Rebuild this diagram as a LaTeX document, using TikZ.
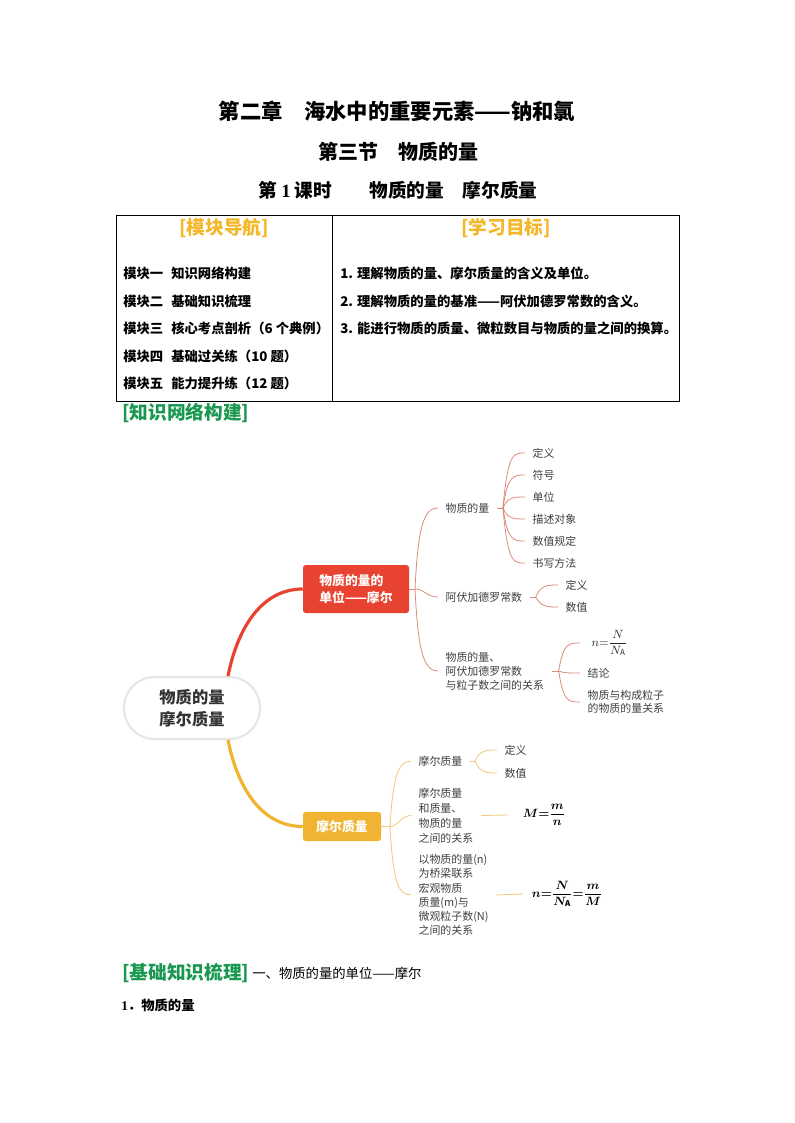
\documentclass[tikz,border=0pt]{standalone}
\usepackage{amsmath}
\usepackage{bm}
\usepackage{fontspec}
\setmainfont{Noto Sans CJK SC}
\newfontfamily\serifL{Liberation Serif}
\usetikzlibrary{calc}
\definecolor{redn}{HTML}{E84330}
\definecolor{redl}{HTML}{DE8A7A}
\definecolor{yeln}{HTML}{F0B432}
\definecolor{yell}{HTML}{F2C878}
\definecolor{gold}{HTML}{F5B72A}
\definecolor{grn}{HTML}{1A9850}
\definecolor{txt}{HTML}{404040}
\begin{document}
\begin{tikzpicture}[x=0.75pt,y=-0.75pt,
  every node/.style={inner sep=0pt},
  leaf/.style={anchor=west, inner xsep=5.5pt, inner ysep=1pt, align=left, text=txt, font=\fontsize{8.2}{10.5}\selectfont},
  rline/.style={draw=redl, line width=0.6pt},
  yline/.style={draw=yell, line width=0.6pt},
  tabitem/.style={anchor=west, font=\fontsize{10}{12}\selectfont\bfseries},
  hdr/.style={font=\fontsize{14}{16}\selectfont\bfseries},
  ttl/.style={font=\bfseries},
]
\useasboundingbox (0,0) rectangle (794,1123);
\fill[white] (0,0) rectangle (794,1123);

% titles
\node[ttl, font=\fontsize{16}{18}\selectfont\bfseries] (t1) at (397,111) {第二章　海水中的重要元素——钠和氯};
\node[ttl, font=\fontsize{15}{17}\selectfont\bfseries] (t2) at (398,152) {第三节　物质的量};
\node[ttl, font=\fontsize{14}{16}\selectfont\bfseries] (t3) at (398,190) {第 {\serifL 1} 课时　　物质的量　摩尔质量};

% table
\node[draw, line width=0.6pt, anchor=north west, minimum width=162pt, minimum height=139.5pt] (cellL) at (116,215) {};
\node[draw, line width=0.6pt, anchor=north west, minimum width=260.25pt, minimum height=139.5pt] (cellR) at (332,215) {};
\node[hdr, text=gold] (hL) at (224,228) {[模块导航]};
\node[hdr, text=gold] (hR) at (506,228) {[学习目标]};
\node[tabitem] (l1) at (123,273) {模块一\hspace{0.6em}知识网络构建};
\node[tabitem] (l2) at (123,301) {模块二\hspace{0.6em}基础知识梳理};
\node[tabitem] (l3) at (123,328) {模块三\hspace{0.6em}核心考点剖析（6 个典例）};
\node[tabitem] (l4) at (123,356) {模块四\hspace{0.6em}基础过关练（10 题）};
\node[tabitem] (l5) at (123,383) {模块五\hspace{0.6em}能力提升练（12 题）};
\node[tabitem] (r1) at (340,273) {1. 理解物质的量、摩尔质量的含义及单位。};
\node[tabitem] (r2) at (340,301) {2. 理解物质的量的基准——阿伏加德罗常数的含义。};
\node[tabitem] (r3) at (340,328) {3. 能进行物质的质量、微粒数目与物质的量之间的换算。};

\node[hdr, text=grn, anchor=west] (g1) at (122,413) {[知识网络构建]};

% mind map main nodes
\node[draw=black!10, line width=1.5pt, fill=white, rounded corners=23pt, minimum width=102pt, minimum height=46.5pt, align=center, text=black!80, font=\fontsize{12.2}{16.5}\selectfont\bfseries] (root) at (192,708) {物质的量\\摩尔质量};
\node[fill=redn, rounded corners=2pt, minimum width=79.5pt, minimum height=36pt, align=left, text=white, font=\fontsize{9.6}{12.75}\selectfont\bfseries] (m1) at (356,589) {物质的量的\\单位——摩尔};
\node[fill=yeln, rounded corners=2pt, minimum width=58.5pt, minimum height=21.75pt, text=white, font=\fontsize{9.6}{12}\selectfont\bfseries] (m2) at (342,826.5) {摩尔质量};

\draw[redn, line width=2.4pt] ($(root.north)+(36,0)$) .. controls +(10,-50) and +(-40,0) .. (m1.west);
\draw[yeln, line width=2.4pt] ($(root.south)+(36,0)$) .. controls +(10,50) and +(-40,0) .. (m2.west);

% red branch
\node[leaf] (a1) at (438,508) {物质的量};
\node[leaf] (a2) at (438,597) {阿伏加德罗常数};
\node[leaf] (a3) at (438,671) {物质的量、\\阿伏加德罗常数\\与粒子数之间的关系};
\coordinate (s1) at (415,589);
\draw[rline] (m1.east) -- (s1);
\draw[rline] (s1) .. controls +(3,-60) and +(-15,0) .. (a1.west);
\draw[rline] (s1) .. controls +(10,0) and +(-12,0) .. (a2.west);
\draw[rline] (s1) .. controls +(3,60) and +(-15,0) .. (a3.west);

\node[leaf] (b1) at (525,453) {定义};
\node[leaf] (b2) at (525,475) {符号};
\node[leaf] (b3) at (525,497) {单位};
\node[leaf] (b4) at (525,519) {描述对象};
\node[leaf] (b5) at (525,541) {数值规定};
\node[leaf] (b6) at (525,563) {书写方法};
\coordinate (f1) at ($(a1.east)+(6,0)$);
\draw[rline] (a1.east) -- (f1);
\foreach \ch in {b1,b2,b3,b4,b5,b6}{
  \draw[rline] (f1) .. controls ($(f1 |- \ch.west)+(5,0)$) and ($(\ch.west)+(-12,0)$) .. (\ch.west);
}

\node[leaf] (c1) at (558,585) {定义};
\node[leaf] (c2) at (558,607) {数值};
\coordinate (f2) at ($(a2.east)+(6,0)$);
\draw[rline] (a2.east) -- (f2);
\foreach \ch in {c1,c2}{
  \draw[rline] (f2) .. controls ($(f2 |- \ch.west)+(5,0)$) and ($(\ch.west)+(-10,0)$) .. (\ch.west);
}

\node[leaf, inner xsep=8.5pt, text=black!85, font=\fontsize{9}{11}\selectfont] (d1) at (580,643) {$n{=}\dfrac{N}{N_{\mathrm{A}}}$};
\node[leaf] (d2) at (580,673) {结论};
\node[leaf, font=\fontsize{8.2}{10}\selectfont] (d3) at (580,702) {物质与构成粒子\\的物质的量关系};
\coordinate (f3) at ($(a3.east)+(7,0)$);
\draw[rline] (a3.east) -- (f3);
\foreach \ch in {d1,d2,d3}{
  \draw[rline] (f3) .. controls ($(f3 |- \ch.west)+(5,0)$) and ($(\ch.west)+(-12,0)$) .. (\ch.west);
}

% yellow branch
\node[leaf] (e1) at (411,761) {摩尔质量};
\node[leaf, font=\fontsize{8.2}{11.2}\selectfont] (e2) at (411,815.5) {摩尔质量\\和质量、\\物质的量\\之间的关系};
\node[leaf, font=\fontsize{8.2}{10.7}\selectfont] (e3) at (411,895) {以物质的量(n)\\为桥梁联系\\宏观物质\\质量(m)与\\微观粒子数(N)\\之间的关系};
\coordinate (s2) at (390,826.5);
\draw[yline] (m2.east) -- (s2);
\draw[yline] (s2) .. controls +(3,-50) and +(-13,0) .. (e1.west);
\draw[yline] (s2) .. controls +(8,0) and +(-10,0) .. (e2.west);
\draw[yline] (s2) .. controls +(3,55) and +(-13,0) .. (e3.west);

\node[leaf] (g1a) at (497,750) {定义};
\node[leaf] (g2a) at (497,773) {数值};
\coordinate (f4) at ($(e1.east)+(5,0)$);
\draw[yline] (e1.east) -- (f4);
\foreach \ch in {g1a,g2a}{
  \draw[yline] (f4) .. controls ($(f4 |- \ch.west)+(5,0)$) and ($(\ch.west)+(-10,0)$) .. (\ch.west);
}

\node[leaf, inner xsep=11pt, text=black, font=\fontsize{9}{11}\selectfont] (h1) at (508,815) {$\bm{M}{\bm{=}}\dfrac{\bm{m}}{\bm{n}}$};
\draw[yline] (e2.east) -- (h1.west);
\node[leaf, inner xsep=6.5pt, text=black, font=\fontsize{9}{11}\selectfont] (h2) at (523,894) {$\bm{n}{\bm{=}}\dfrac{\bm{N}}{\bm{N}_{\mathbf{A}}}{\bm{=}}\dfrac{\bm{m}}{\bm{M}}$};
\draw[yline] (e3.east) -- (h2.west);

% bottom text
\node[hdr, text=grn, anchor=west] (k1) at (122,973) {[基础知识梳理]};
\node[anchor=west, font=\fontsize{10}{12}\selectfont] (k2) at ([xshift=2pt]k1.east) {一、物质的量的单位——摩尔};
\node[anchor=west, font=\fontsize{10}{12}\selectfont\bfseries] (k3) at (121,1005) {{\serifL 1}．物质的量};
\end{tikzpicture}
\end{document}
